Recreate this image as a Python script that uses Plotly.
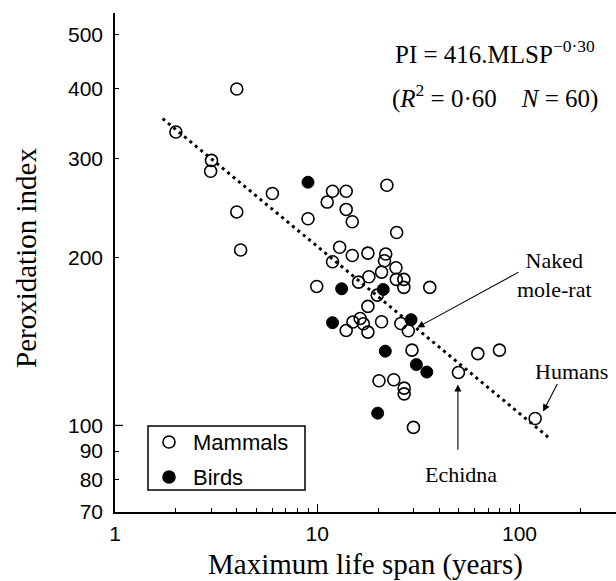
import numpy as np
import plotly.graph_objects as go

# ---------------- data ----------------
mammal_lifespan = [2.0, 4.0, 3.0, 2.97, 6.0, 4.0, 4.18, 11.9, 13.9, 22.1,
                   11.2, 13.9, 14.9, 9.0, 24.7, 12.9, 14.9, 17.8, 21.8, 21.5,
                   11.9, 24.5, 20.8, 18.0, 16.0, 24.6, 26.8, 26.8, 9.94, 19.8,
                   36.0, 17.8, 15.0, 16.3, 16.9, 13.9, 17.8, 20.8, 25.9, 28.2,
                   29.4, 20.2, 23.9, 26.9, 26.9, 29.9, 62.2, 79.6, 49.9, 119.5]
mammal_pi = [335, 400, 298, 285, 260, 241, 206, 262.5, 262.5, 269,
             251, 243.5, 231.4, 234.3, 221.4, 208.4, 201.4, 203.4, 202.6, 197.1,
             196.3, 191.5, 188.1, 184.5, 180.5, 182.5, 182.5, 176.6, 177.3, 171.1,
             176.6, 163.3, 153.1, 155.4, 152.0, 147.9, 146.9, 153.3, 152.2, 147.7,
             136.4, 120.2, 120.7, 116.6, 113.9, 99.2, 134.4, 136.4, 124.4, 102.9]

bird_lifespan = [9.0, 13.2, 21.2, 11.9, 29.1, 21.7, 30.9, 34.8, 19.9]
bird_pi = [272.4, 175.6, 175.1, 152.7, 154.6, 135.8, 128.5, 124.6, 105.2]

# regression line end points (PI = 416.MLSP^-0.30)
fit_lifespan = [1.72, 140.0]
fit_pi = [354.0, 95.0]

x_tick_vals = [1, 10, 100]
x_tick_text = ["1", "10", "100"]
x_minor_vals = [2, 3, 4, 5, 6, 7, 8, 9, 20, 30, 40, 50, 60, 70, 80, 90, 200]
y_tick_vals = [70, 80, 90, 100, 200, 300, 400, 500]
y_tick_text = ["70", "80", "90", "100", "200", "300", "400", "500"]

legend_labels = ["Mammals", "Birds"]

x_max = 300
y_min, y_max = 70, 547

SANS = "Liberation Sans, Arial, Helvetica, sans-serif"
SERIF = "Liberation Serif, Times New Roman, serif"

W, H = 616, 581
ML, MR, MT, MB = 115, 0, 13, 69
PW, PH = W - ML - MR, H - MT - MB


def px(xp):  # pixel x -> paper x
    return (xp - ML) / PW


def py(yp):  # pixel y -> paper y
    return (H - MB - yp) / PH


fig = go.Figure()

fig.add_trace(go.Scatter(
    x=fit_lifespan, y=fit_pi, mode="lines",
    line=dict(color="black", width=3, dash="3px,4px"),
    showlegend=False, hoverinfo="skip"))

fig.add_trace(go.Scatter(
    x=mammal_lifespan, y=mammal_pi, mode="markers", name=legend_labels[0],
    showlegend=False,
    marker=dict(symbol="circle-open", size=12, color="black",
                line=dict(width=1.6, color="black"))))

fig.add_trace(go.Scatter(
    x=bird_lifespan, y=bird_pi, mode="markers", name=legend_labels[1],
    showlegend=False,
    marker=dict(symbol="circle", size=12, color="black",
                line=dict(width=1, color="black"))))

L = np.log10
ann = []
ann.append(dict(x=1.375, y=2.669, xref="x", yref="y", xanchor="left", yanchor="middle",
                text="PI = 416.MLSP<sup>\u22120\u00b730</sup>", showarrow=False,
                font=dict(family=SERIF, size=25, color="black")))
ann.append(dict(x=1.36, y=2.589, xref="x", yref="y", xanchor="left", yanchor="middle",
                text="(<i>R</i><sup>2</sup> = 0\u00b760\u00a0\u00a0\u00a0 <i>N</i> = 60)",
                showarrow=False,
                font=dict(family=SERIF, size=25, color="black")))
ann.append(dict(x=2.171, y=2.270, xref="x", yref="y", xanchor="center", yanchor="middle",
                text="Naked<br>mole-rat", showarrow=False,
                font=dict(family=SERIF, size=22, color="black")))
ann.append(dict(x=2.2552, y=2.0966, xref="x", yref="y", xanchor="center", yanchor="middle",
                text="Humans", showarrow=False,
                font=dict(family=SERIF, size=22, color="black")))
ann.append(dict(x=1.7112, y=1.9123, xref="x", yref="y", xanchor="center", yanchor="middle",
                text="Echidna", showarrow=False,
                font=dict(family=SERIF, size=22, color="black")))
# axis titles
ann.append(dict(x=0.5, y=py(564), xref="paper", yref="paper", xanchor="center", yanchor="middle",
                text="Maximum life span (years)", showarrow=False,
                font=dict(family=SERIF, size=29, color="black")))
ann.append(dict(x=px(26), y=py(258), xref="paper", yref="paper", xanchor="center",
                yanchor="middle", text="Peroxidation index", showarrow=False, textangle=-90,
                font=dict(family=SERIF, size=29, color="black")))
# arrows (head, tail)
for (hx, hy, tx, ty) in [(31.2, 149.7, 100.7, 188.7),
                         (130.8, 105.9, 155.2, 119.4),
                         (49.6, 118.4, 49.6, 89.9)]:
    ann.append(dict(x=L(hx), y=L(hy), ax=L(tx), ay=L(ty), xref="x", yref="y",
                    axref="x", ayref="y", text="", showarrow=True,
                    arrowhead=2, arrowsize=1.3, arrowwidth=1.1, arrowcolor="black"))

# longer tick at y=100
y0l, y1l = L(y_min), L(y_max)
p100 = (L(100) - y0l) / (y1l - y0l)
shapes = [dict(type="line", xref="paper", yref="paper", x0=0, x1=8 / PW,
               y0=p100, y1=p100, line=dict(color="black", width=1.3))]

# legend box (drawn by hand to match the boxed key)
shapes.append(dict(type="rect", xref="paper", yref="paper",
                   x0=px(148), x1=px(305), y0=py(490), y1=py(426),
                   line=dict(color="black", width=1.5), fillcolor="white", layer="above"))
for i, (lab, filled) in enumerate(zip(legend_labels, [False, True])):
    yc = py(442 + 35 * i)
    shapes.append(dict(type="circle", xref="paper", yref="paper",
                       xsizemode="pixel", ysizemode="pixel",
                       xanchor=px(169), yanchor=yc, x0=-6, x1=6, y0=-6, y1=6,
                       line=dict(color="black", width=1.6),
                       fillcolor="black" if filled else "white", layer="above"))
    ann.append(dict(x=px(191), y=yc, xref="paper", yref="paper", xanchor="left",
                    yanchor="middle", text=lab, showarrow=False,
                    font=dict(family=SANS, size=22, color="black")))

fig.update_layout(
    width=W, height=H,
    margin=dict(l=ML, r=MR, t=MT, b=MB, autoexpand=False),
    paper_bgcolor="white", plot_bgcolor="white",
    annotations=ann, shapes=shapes, showlegend=False,
)

fig.update_xaxes(
    type="log", range=[0, L(x_max)], automargin=False,
    showline=True, linecolor="black", linewidth=1.5, mirror=False,
    showgrid=False, zeroline=False,
    tickmode="array", tickvals=x_tick_vals, ticktext=x_tick_text,
    ticks="inside", ticklen=8, tickwidth=1.2, tickcolor="black",
    ticklabelstandoff=2,
    minor=dict(tickmode="array", tickvals=x_minor_vals, ticks="inside",
               ticklen=4, tickwidth=1.2, tickcolor="black", showgrid=False),
    tickfont=dict(family=SANS, size=21, color="black"),
)
fig.update_yaxes(
    type="log", range=[y0l, y1l], automargin=False,
    showline=True, linecolor="black", linewidth=1.5, mirror=False,
    showgrid=False, zeroline=False,
    tickmode="array", tickvals=y_tick_vals, ticktext=y_tick_text,
    ticks="inside", ticklen=4, tickwidth=1.2, tickcolor="black",
    ticklabelstandoff=6,
    tickfont=dict(family=SANS, size=21, color="black"),
)

fig.write_html("out.html",
               config={"displayModeBar": False},
               post_script="document.body.style.margin='0';document.body.style.padding='0';")
